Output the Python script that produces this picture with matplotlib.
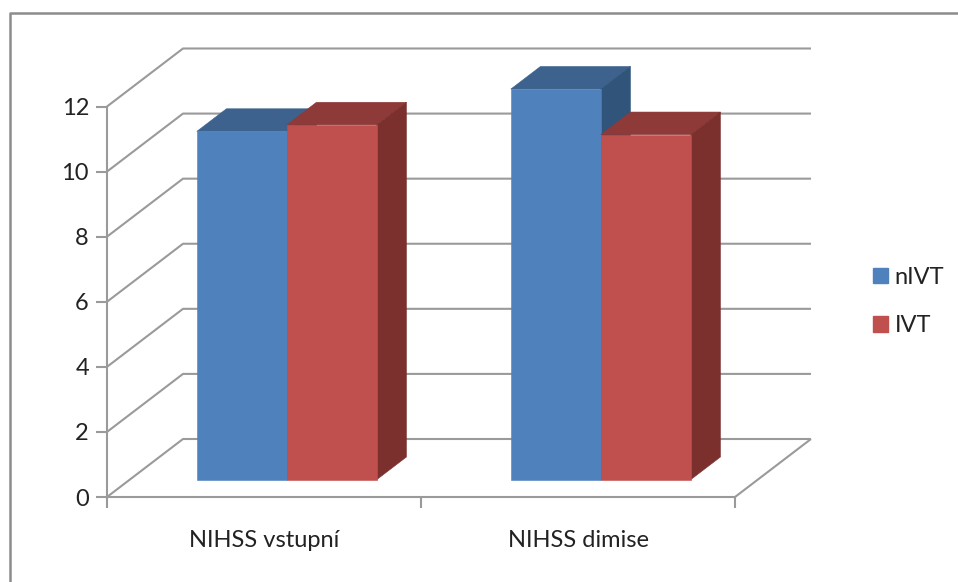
#!/usr/bin/env python
# -*- coding: utf-8 -*-
import numpy as np
import matplotlib
matplotlib.use('Agg')
import matplotlib.pyplot as plt
from matplotlib.patches import Polygon, Patch
from matplotlib.lines import Line2D

plt.rcParams['font.family'] = ['Lato', 'DejaVu Sans']

categories = ['NIHSS vstupní', 'NIHSS dimise']
series_names = ['nIVT', 'IVT']
nivt = [10.7, 12.0]
ivt = [10.9, 10.6]
y_ticks = [0, 2, 4, 6, 8, 10, 12]

# (front, top, side) shades per series
shades = [('#4f81bd', '#3d628d', '#31547b'),
          ('#c0504d', '#8e3a38', '#7b302e')]
grid_color = '#9a9a9a'
text_color = '#222222'

W, H = 958, 582
fig = plt.figure(figsize=(W / 100, H / 100), dpi=100)
ax = fig.add_axes([107 / W, (H - 497) / H, 628 / W, 390.5 / H])
ax.set_xlim(0, 2)
ax.set_ylim(0, 12)
ax.patch.set_visible(False)

# oblique depth of the floor, in data units
dx = 76 / 314
dy = 58 / 32.54
bar_w = 90 / 314
d_front, d_back = 0.30, 0.69


def pt(x, v, d):
    return (x + d * dx, v + d * dy)


def line(pts, **kw):
    xs, ys = zip(*pts)
    ax.add_line(Line2D(xs, ys, color=grid_color, lw=1.5, clip_on=False,
                       solid_capstyle='butt', zorder=1, **kw))


# gridlines on the side wall and the back wall
for v in y_ticks:
    line([pt(0, v, 0), pt(0, v, 1), pt(2, v, 1)])
line([pt(2, 0, 0), pt(2, 0, 1)])


def box(x, v, colors, z):
    front, top, side = colors
    l, r = x, x + bar_w
    faces = [
        ([pt(l, v, d_front), pt(r, v, d_front), pt(r, v, d_back), pt(l, v, d_back)], top),
        ([pt(r, 0, d_front), pt(r, v, d_front), pt(r, v, d_back), pt(r, 0, d_back)], side),
        ([pt(l, 0, d_front), pt(r, 0, d_front), pt(r, v, d_front), pt(l, v, d_front)], front),
    ]
    for verts, c in faces:
        ax.add_patch(Polygon(verts, closed=True, facecolor=c, edgecolor=c, lw=0.4,
                             clip_on=False, zorder=z))


z = 3
for i in range(len(categories)):
    x0 = i + 0.5 - bar_w
    box(x0, nivt[i], shades[0], z)
    box(x0 + bar_w, ivt[i], shades[1], z + 1)
    z += 2

# axes
for s in ['top', 'right']:
    ax.spines[s].set_visible(False)
for s in ['left', 'bottom']:
    ax.spines[s].set_color(grid_color)
    ax.spines[s].set_linewidth(1.5)
    ax.spines[s].set_zorder(2)

ax.set_yticks(y_ticks)
ax.set_xticks([0, 1, 2])
ax.set_xticklabels([])
ax.set_xticks([0.5, 1.5], labels=categories, minor=True)
ax.tick_params(axis='both', which='major', color=grid_color, width=1.5, length=8,
               labelsize=17, labelcolor=text_color)
ax.tick_params(axis='x', which='minor', length=0, pad=24, labelsize=17, labelcolor=text_color)
ax.tick_params(axis='y', pad=5)

handles = [Patch(facecolor=shades[i][0], edgecolor=shades[i][0], label=series_names[i])
           for i in range(2)]
leg = fig.legend(handles=handles, loc='upper left', bbox_to_anchor=(866 / W, 1 - 260 / H),
                 frameon=False, fontsize=17, labelspacing=1.15, handlelength=0.62,
                 handleheight=0.62, handletextpad=0.3, borderpad=0.3, borderaxespad=0,
                 labelcolor=text_color)

# outer chart frame, open at the right and the bottom
fig.add_artist(Line2D([10 / W, 10 / W, 1], [0, 1 - 12.5 / H, 1 - 12.5 / H],
                      color='#8c8c8c', lw=1.8, transform=fig.transFigure))

fig.savefig('out.png', dpi=100, facecolor='white')
